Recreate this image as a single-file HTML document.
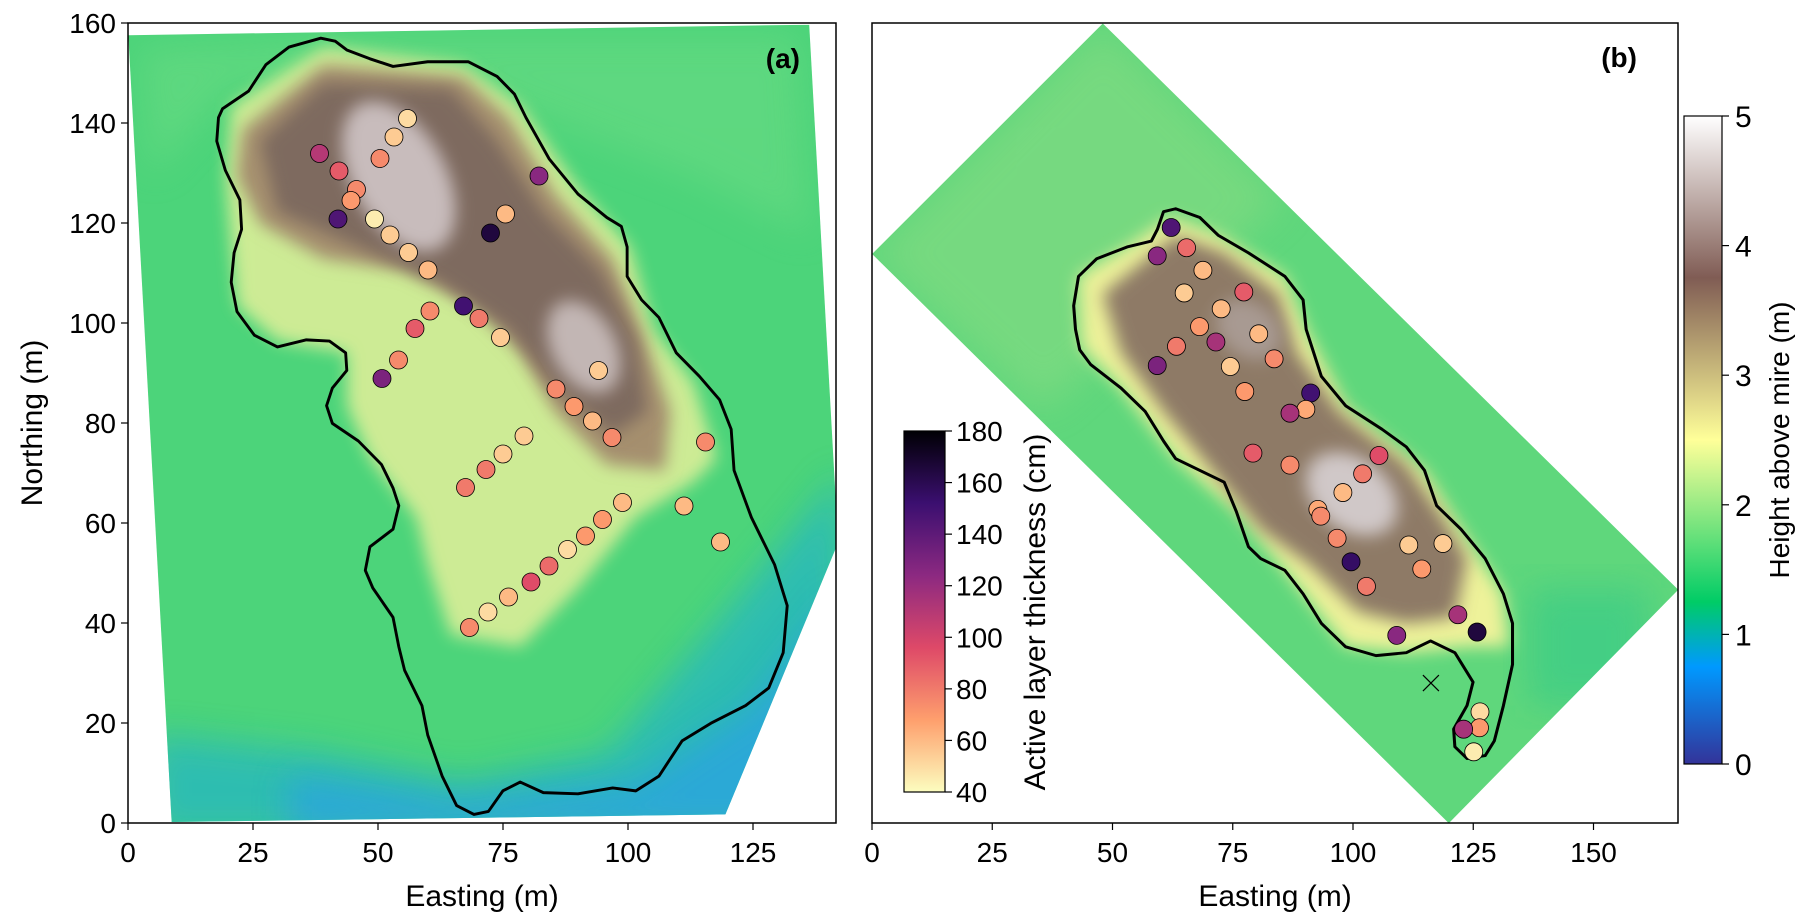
<!DOCTYPE html>
<html><head><meta charset="utf-8"><style>
body{margin:0;background:#fff;}
svg{display:block;font-family:"Liberation Sans",Arial,sans-serif;}
</style></head><body>
<svg id="fig" width="1812" height="922" viewBox="0 0 1812 922" xmlns="http://www.w3.org/2000/svg">
<defs>
<clipPath id="clipA"><rect x="128" y="23" width="708" height="800"/></clipPath>
<clipPath id="clipB"><rect x="872" y="23" width="806" height="800"/></clipPath>
<clipPath id="fpA"><polygon points="222,60 1400,42 1447,870 1447,930 1255,1385 297,1398"/></clipPath>
<clipPath id="fpB"><polygon points="20,432 400,40 1348,1003 970,1400"/></clipPath>
<filter id="b1" x="-20%" y="-20%" width="140%" height="140%"><feGaussianBlur stdDeviation="30"/></filter>
<filter id="b2" x="-20%" y="-20%" width="140%" height="140%"><feGaussianBlur stdDeviation="14"/></filter>
<linearGradient id="terrainGrad" x1="0" y1="1" x2="0" y2="0">
<stop offset="0" stop-color="#333399"/><stop offset="0.15" stop-color="#0099ff"/><stop offset="0.25" stop-color="#00cc66"/><stop offset="0.5" stop-color="#ffff99"/><stop offset="0.75" stop-color="#805c54"/><stop offset="1" stop-color="#ffffff"/>
</linearGradient>
<linearGradient id="magmaGrad" x1="0" y1="1" x2="0" y2="0">
<stop offset="0" stop-color="#fcfdbf"/><stop offset="0.2" stop-color="#fe9f6d"/><stop offset="0.4" stop-color="#de4968"/><stop offset="0.6" stop-color="#8c2981"/><stop offset="0.8" stop-color="#3b0f70"/><stop offset="1" stop-color="#000004"/>
</linearGradient>
</defs>

<g clip-path="url(#clipA)">
<g transform="scale(0.578,0.588)">
<g clip-path="url(#fpA)">
<rect x="200" y="30" width="1260" height="1380" fill="#4cd47a"/>
<polygon points="260,1250 550,1280 800,1330 1050,1280 1250,1050 1460,800 1460,1420 260,1420" fill="#22b4c8" filter="url(#b1)" opacity="0.7"/>
<polygon points="500,1320 800,1360 1100,1330 1300,1200 1460,1000 1460,1420 500,1420" fill="#2a9bf0" filter="url(#b1)" opacity="0.6"/>
<polygon points="240,80 700,60 1100,60 1380,60 1400,400 1200,300 800,150 400,150 260,300" fill="#6fdc85" filter="url(#b1)" opacity="0.5"/>
<polygon points="400,180 560,80 800,110 900,180 1000,320 1090,420 1130,560 1200,650 1240,780 1200,820 1100,880 1000,1000 900,1100 780,1080 740,960 720,880 640,780 600,690 600,600 480,580 410,520 400,420 390,300" fill="#e4f09a" filter="url(#b2)" opacity="0.85"/>
<polygon points="420,220 560,110 800,130 880,200 960,330 1060,440 1110,560 1160,700 1150,800 1050,790 960,700 900,600 820,520 700,460 560,440 450,380 410,300" fill="#a58f6e" filter="url(#b2)"/>
<polygon points="450,240 560,140 780,150 860,240 940,360 1040,460 1100,580 1120,700 1060,740 960,660 880,560 760,480 620,420 480,360" fill="#7e6a5f" filter="url(#b2)"/>
<ellipse cx="690" cy="300" rx="80" ry="140" transform="rotate(-30 690 300)" fill="#c8bcbc" filter="url(#b2)"/>
<ellipse cx="1010" cy="590" rx="55" ry="85" transform="rotate(-30 1010 590)" fill="#c2b6b4" filter="url(#b2)"/>
</g>
<path fill="none" stroke="#000" stroke-width="5" stroke-linejoin="round" d="M385,185 L400,175 430,155 460,110 500,80 555,65 580,70 600,85 640,100 680,113 740,105 810,105 860,130 890,160 910,200 950,270 1000,330 1050,370 1075,385 1085,420 1085,470 1110,510 1140,540 1170,600 1210,640 1245,680 1265,730 1270,800 1300,880 1340,960 1362,1030 1355,1110 1330,1170 1290,1200 1230,1230 1180,1260 1140,1320 1100,1345 1060,1340 1000,1350 940,1348 900,1330 870,1345 845,1380 820,1385 790,1370 765,1320 740,1250 730,1200 700,1140 690,1100 680,1050 645,1000 632,970 640,930 680,900 690,860 680,830 660,790 620,750 575,720 565,690 575,660 600,630 598,600 570,580 530,578 480,590 440,570 410,530 400,480 405,430 418,390 415,340 390,290 375,240 378,200 Z"/>
</g>
</g>

<g clip-path="url(#clipB)">
<g transform="translate(860,0) scale(0.607,0.588)">
<g clip-path="url(#fpB)">
<rect x="0" y="30" width="1360" height="1380" fill="#5fd77c"/>
<polygon points="20,432 400,40 700,340 300,700" fill="#8ddc84" filter="url(#b1)" opacity="0.5"/>
<polygon points="1100,1000 1300,1000 1300,1200 1100,1200" fill="#2cc68c" filter="url(#b1)" opacity="0.5"/>
<polygon points="360,470 440,420 510,370 590,400 700,470 735,560 800,690 930,800 990,900 1060,1010 1070,1100 1000,1100 900,1110 800,1100 700,970 620,870 520,780 430,660 365,590" fill="#eef29a" filter="url(#b2)"/>
<polygon points="400,500 520,400 600,430 690,500 720,600 790,700 900,790 960,880 1000,950 980,1050 900,1060 820,1040 740,960 660,900 580,800 500,700 430,600" fill="#8e7a66" filter="url(#b2)"/>
<ellipse cx="810" cy="840" rx="85" ry="60" transform="rotate(40 810 840)" fill="#d0c8c8" filter="url(#b2)"/>
<ellipse cx="640" cy="560" rx="60" ry="45" transform="rotate(40 640 560)" fill="#a89a92" filter="url(#b2)"/>
</g>
<path fill="none" stroke="#000" stroke-width="5" stroke-linejoin="round" d="M500,360 L520,355 560,370 590,400 640,430 700,470 730,510 735,560 760,640 800,690 860,730 900,760 930,800 950,860 990,900 1030,950 1060,1010 1075,1060 1075,1130 1060,1200 1045,1260 1030,1285 1000,1290 980,1270 978,1240 1000,1200 1010,1160 980,1110 940,1090 900,1110 850,1115 800,1100 760,1060 730,1010 700,970 660,950 640,930 620,870 600,820 560,800 520,780 500,750 470,700 430,660 380,620 362,595 355,560 352,520 360,470 390,440 440,420 480,410 490,390 Z"/>
</g>
</g>

<g id="marksA" clip-path="url(#clipA)"></g>
<g id="marksB" clip-path="url(#clipB)"></g>

<rect x="128" y="23" width="708" height="800" fill="none" stroke="#000" stroke-width="1.5"/>
<rect x="872" y="23" width="806" height="800" fill="none" stroke="#000" stroke-width="1.5"/>
<text x="800" y="68" font-size="28" font-weight="bold" text-anchor="end">(a)</text>
<text x="1637" y="67" font-size="28" font-weight="bold" text-anchor="end">(b)</text>
<text x="482" y="906" font-size="30" text-anchor="middle">Easting (m)</text>
<text x="1275" y="906" font-size="30" text-anchor="middle">Easting (m)</text>
<text transform="translate(42,423) rotate(-90)" font-size="30" text-anchor="middle">Northing (m)</text>

<rect x="1684" y="116" width="38" height="648" fill="url(#terrainGrad)" stroke="#000" stroke-width="1.2"/>
<text transform="translate(1789,440) rotate(-90)" font-size="28" text-anchor="middle">Height above mire (m)</text>
<rect x="904" y="431" width="41" height="361" fill="url(#magmaGrad)" stroke="#000" stroke-width="1.2"/>
<text transform="translate(1045,612) rotate(-90)" font-size="30" text-anchor="middle">Active layer thickness (cm)</text>
<g id="ticks"></g>
</svg>
<script>
const ptsAx=[38.3,42.2,45.7,44.6,42.0,49.3,52.4,56.1,60.0,50.4,53.2,55.9,82.2,75.5,72.5,67.1,70.2,74.5,60.4,57.4,54.1,50.8,94.1,85.6,89.2,92.9,96.8,115.5,79.2,75.0,71.6,67.5,98.9,94.9,91.5,87.9,84.2,80.6,76.1,72.0,68.3,111.2,118.5];
const ptsAy=[133.9,130.4,126.7,124.5,120.8,120.8,117.6,114.1,110.6,132.9,137.2,140.9,129.4,121.8,118.0,103.4,100.9,97.1,102.4,98.9,92.6,88.9,90.5,86.8,83.3,80.4,77.1,76.2,77.4,73.8,70.7,67.1,64.1,60.7,57.4,54.7,51.4,48.2,45.2,42.2,39.1,63.4,56.2];
const altA=[110,90,75,70,145,45,55,55,60,75,55,50,125,60,165,150,80,55,75,90,75,130,55,75,70,60,75,75,55,55,80,80,60,70,70,50,85,95,60,50,75,60,60];
const ptsBx=[62.2,59.3,65.4,68.8,64.9,77.3,72.6,68.1,80.4,71.5,63.3,83.6,74.5,59.3,77.5,91.2,90.2,86.9,79.2,86.9,105.4,102.0,97.9,92.7,93.3,96.7,99.6,102.8,111.6,118.7,114.3,121.8,125.8,109.1,126.4,126.3,123.0,125.1];
const ptsBy=[123.8,117.9,119.6,114.9,110.2,110.4,106.9,103.2,101.7,100.0,99.1,96.5,94.9,95.1,89.7,89.4,86.0,85.2,76.9,74.4,76.4,72.6,68.7,65.2,63.8,59.2,54.3,49.2,57.8,58.1,52.8,43.3,39.7,39.0,23.1,19.8,19.5,14.8];
const altB=[145,125,85,60,55,90,60,70,60,115,80,75,55,130,70,150,65,115,90,75,95,80,60,65,75,75,155,80,55,55,70,115,165,125,50,70,115,45];
const crossB=[116.2,29.1];
const ticksAx=[0,25,50,75,100,125];
const ticksAy=[0,20,40,60,80,100,120,140,160];
const ticksBx=[0,25,50,75,100,125,150];
const ticksH=[0,1,2,3,4,5];
const ticksALT=[40,60,80,100,120,140,160,180];

const xA=m=>128+m*5.0, yA=m=>823-m*5.0;
const xB=m=>872+m*4.81, yB=m=>823-m*4.81;
const yH=v=>764-v*(648/5);
const yALT=v=>792-(v-40)*(361/140);
const NS='http://www.w3.org/2000/svg';
const stops=[[0,[252,253,191]],[0.2,[254,159,109]],[0.4,[222,73,104]],[0.6,[140,41,129]],[0.8,[59,15,112]],[1,[0,0,4]]];
function cmap(v){let t=Math.max(0,Math.min(1,(v-40)/140));for(let i=1;i<stops.length;i++){if(t<=stops[i][0]){const a=stops[i-1],b=stops[i],f=(t-a[0])/(b[0]-a[0]);return 'rgb('+a[1].map((c,k)=>Math.round(c+(b[1][k]-c)*f)).join(',')+')';}}return 'rgb(0,0,4)';}
function mk(tag,attrs,parent){const e=document.createElementNS(NS,tag);for(const k in attrs)e.setAttribute(k,attrs[k]);parent.appendChild(e);return e;}
const gA=document.getElementById('marksA'),gB=document.getElementById('marksB'),gT=document.getElementById('ticks');
ptsAx.forEach((x,i)=>{const c=mk('circle',{cx:xA(x),cy:yA(ptsAy[i]),r:9,fill:cmap(altA[i]),stroke:'#000','stroke-width':0.8},gA);

});
ptsBx.forEach((x,i)=>{const c=mk('circle',{cx:xB(x),cy:yB(ptsBy[i]),r:9,fill:cmap(altB[i]),stroke:'#000','stroke-width':0.8},gB);

});
{const cx=xB(crossB[0]),cy=yB(crossB[1]);const p=mk('path',{d:'M'+(cx-8)+','+(cy-8)+'L'+(cx+8)+','+(cy+8)+'M'+(cx-8)+','+(cy+8)+'L'+(cx+8)+','+(cy-8),stroke:'#000','stroke-width':1.2,fill:'none'},gB);

}
function tickX(xf,v){mk('line',{x1:xf(v),x2:xf(v),y1:823,y2:830,stroke:'#000','stroke-width':1.2},gT);
const t=mk('text',{x:xf(v),y:862,'font-size':28,'text-anchor':'middle'},gT);t.textContent=v;

}
ticksAx.forEach(v=>tickX(xA,v));
ticksBx.forEach(v=>tickX(xB,v));
ticksAy.forEach(v=>{mk('line',{x1:121,x2:128,y1:yA(v),y2:yA(v),stroke:'#000','stroke-width':1.2},gT);
const t=mk('text',{x:116,y:yA(v)+10,'font-size':28,'text-anchor':'end'},gT);t.textContent=v;

});
ticksH.forEach(v=>{mk('line',{x1:1722,x2:1729,y1:yH(v),y2:yH(v),stroke:'#000','stroke-width':1.2},gT);
const t=mk('text',{x:1735,y:yH(v)+11,'font-size':30},gT);t.textContent=v;

});
ticksALT.forEach(v=>{mk('line',{x1:945,x2:952,y1:yALT(v),y2:yALT(v),stroke:'#000','stroke-width':1.2},gT);
const t=mk('text',{x:956,y:yALT(v)+10,'font-size':28},gT);t.textContent=v;

});
</script>
</body></html>
